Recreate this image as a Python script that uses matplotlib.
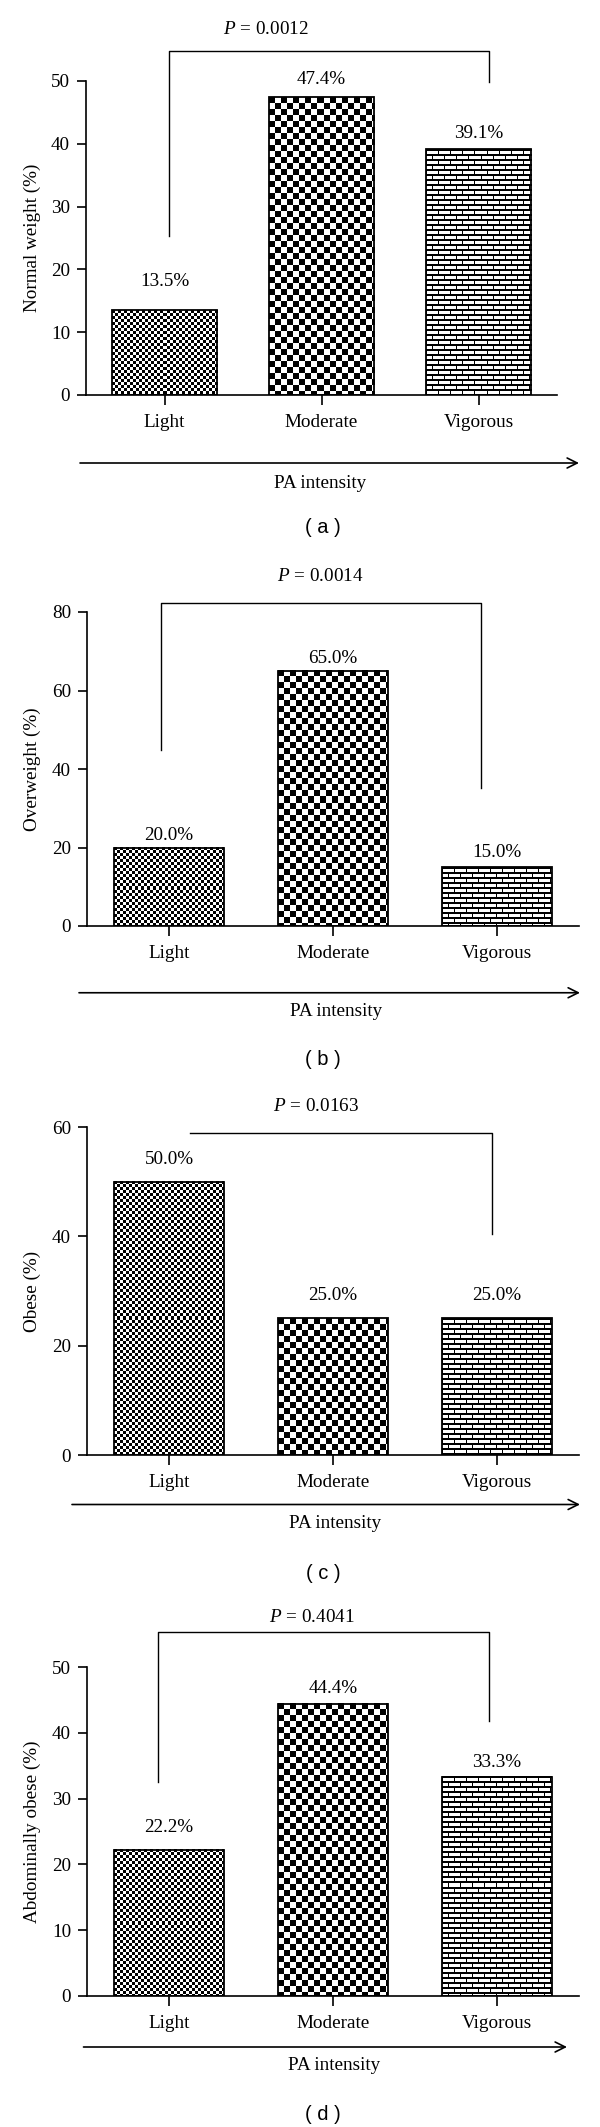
import numpy as np
import matplotlib
matplotlib.use('Agg')
import matplotlib.pyplot as plt

plt.rcParams['font.family'] = ['Liberation Serif', 'DejaVu Serif']
plt.rcParams['mathtext.fontset'] = 'custom'
plt.rcParams['mathtext.it'] = 'Liberation Serif:italic'
plt.rcParams['mathtext.rm'] = 'Liberation Serif'

# data
categories = ['Light', 'Moderate', 'Vigorous']
normal_weight = [13.5, 47.4, 39.1]
overweight = [20.0, 65.0, 15.0]
obese = [50.0, 25.0, 25.0]
abd_obese = [22.2, 44.4, 33.3]
p_values = ['0.0012', '0.0014', '0.0163', '0.4041']
y_labels = ['Normal weight (%)', 'Overweight (%)', 'Obese (%)', 'Abdominally obese (%)']
y_max = [50, 80, 60, 50]
y_step = [10, 20, 20, 10]
tags = ['a', 'b', 'c', 'd']
series = [normal_weight, overweight, obese, abd_obese]

# layout in pixels (figure 600 x 2127, each panel a quarter of the height)
W, H = 600, 2127
PH = H / 4
axes_x = [(86, 557), (87, 579), (87, 579), (87, 579)]
axes_y = [(81, 395), (80.25, 394.25), (63.5, 391.5), (71.75, 400.75)]
label_off = [[29, 18, 16], [12, 12.5, 14.5], [22.5, 22.5, 22.5], [22.5, 15.5, 14.5]]
# bracket: x left, x right (data units), top value, left leg end, right leg end
brackets = [(0.03, 2.07, 54.8, 25.3, 49.8),
            (-0.05, 1.90, 82.3, 44.9, 35.2),
            (0.13, 1.97, 58.9, None, 40.5),
            (-0.07, 1.95, 55.3, 32.5, 41.8)]
p_pos = [(266, 30), (320, 44.75), (316, 43), (312, 22.75)]
arrows = [(80, 579, 463), (79, 580, 461), (72, 580, 441), (83.5, 567, 451.75)]
pa_pos = [(320, 483), (336, 480), (335, 460), (334, 470)]
tag_pos = [(323, 527), (323, 527.5), (323, 510), (323, 519)]
bar_w = 0.67
kinds = ['fine', 'coarse', 'brick']
FS = 13.8


def fx(px):
    return px / W


def fy(k, py):
    return 1 - (k * PH + py) / H


def pattern(kind, h, w):
    i, j = np.mgrid[0:h, 0:w]
    if kind == 'fine':
        return ((i // 3 + j // 3) % 2).astype(float)
    if kind == 'coarse':
        return ((i // 6 + j // 6) % 2).astype(float)
    # bricks
    arr = np.ones((h, w))
    row = i // 5
    shift = np.where(row % 2 == 0, 0, 6)
    arr[(i % 5) < 2] = 0
    arr[((j + shift) % 12) == 0] = 0
    return arr


fig = plt.figure(figsize=(W / 100, H / 100), dpi=100)

for k in range(4):
    x0, x1 = axes_x[k]
    t, b = axes_y[k]
    ax = fig.add_axes([fx(x0), fy(k, b), (x1 - x0) / W, (b - t) / H])
    vals = series[k]
    x = np.arange(len(categories))
    bars = ax.bar(x, vals, bar_w, facecolor='none', edgecolor='black', linewidth=1.3, zorder=3)
    ax.set_xlim(-0.5, 2.5)
    ax.set_ylim(0, y_max[k])

    # fill patterns
    for bar, kind in zip(bars, kinds):
        left, h = bar.get_x(), bar.get_height()
        p0 = ax.transData.transform((left, 0))
        p1 = ax.transData.transform((left + bar.get_width(), h))
        wpx = int(round(p1[0] - p0[0]))
        hpx = int(round(p1[1] - p0[1]))
        ax.imshow(pattern(kind, hpx, wpx), extent=(left, left + bar.get_width(), 0, h),
                  cmap='gray', vmin=0, vmax=1, interpolation='nearest', aspect='auto', zorder=2)
    ax.set_xlim(-0.5, 2.5)
    ax.set_ylim(0, y_max[k])

    for i, v in enumerate(vals):
        ax.annotate(f'{v:.1f}%', (i, v), xytext=(0, label_off[k][i] * 0.72),
                    textcoords='offset points', ha='center', va='center', fontsize=FS)

    ax.spines['top'].set_visible(False)
    ax.spines['right'].set_visible(False)
    for s in ['left', 'bottom']:
        ax.spines[s].set_linewidth(1.2)
    ax.set_xticks(x)
    ax.set_xticklabels(categories)
    ax.set_yticks(np.arange(0, y_max[k] + 1, y_step[k]))
    ax.tick_params(axis='y', length=6.5, width=1.2, pad=5, labelsize=FS)
    ax.tick_params(axis='x', length=7, width=1.2, pad=7, labelsize=FS)

    xl, xr, top, lleg, rleg = brackets[k]
    if lleg is None:
        ax.plot([xl, xr, xr], [top, top, rleg], color='black', lw=1.0, clip_on=False)
    else:
        ax.plot([xl, xl, xr, xr], [lleg, top, top, rleg], color='black', lw=1.0, clip_on=False)

    fig.text(fx(32), fy(k, (t + b) / 2), y_labels[k], rotation=90, ha='center', va='center', fontsize=FS)
    fig.text(fx(p_pos[k][0]), fy(k, p_pos[k][1]), '$P$ = ' + p_values[k],
             ha='center', va='center', fontsize=FS)
    a0, a1, ay = arrows[k]
    ax.annotate('', xy=(fx(a1), fy(k, ay)), xytext=(fx(a0), fy(k, ay)),
                xycoords='figure fraction', textcoords='figure fraction',
                arrowprops=dict(arrowstyle='->', lw=1.2, color='black',
                                mutation_scale=18, shrinkA=0, shrinkB=0))
    fig.text(fx(pa_pos[k][0]), fy(k, pa_pos[k][1]), 'PA intensity', ha='center', va='center', fontsize=FS)
    fig.text(fx(tag_pos[k][0]), fy(k, tag_pos[k][1]), '( ' + tags[k] + ' )', ha='center', va='center',
             fontsize=14.5, family='Liberation Sans')

fig.savefig('out.png', dpi=100)
